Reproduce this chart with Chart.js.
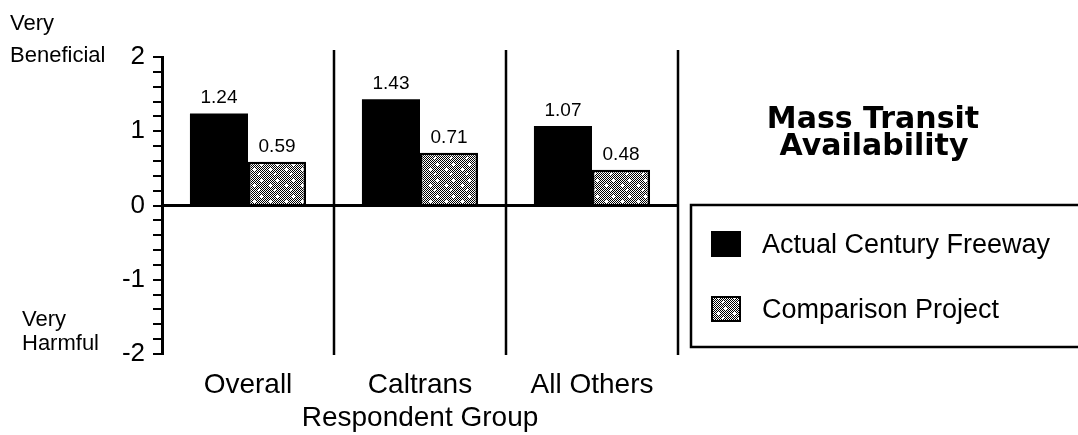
<!DOCTYPE html>
<html>
<head>
<meta charset="utf-8">
<script src="https://cdn.jsdelivr.net/npm/chart.js@4.4.1/dist/chart.umd.min.js"></script>
<style>
  body { margin: 0; background: #fff; }
  #wrap { width: 1078px; height: 435px; position: relative; }
</style>
</head>
<body>
<div id="wrap"><canvas id="massTransit"></canvas></div>
<script>
// data
const groups = ['Overall', 'Caltrans', 'All Others'];
const seriesNames = ['Actual Century Freeway', 'Comparison Project'];
const actualValues = [1.24, 1.43, 1.07];
const comparisonValues = [0.59, 0.71, 0.48];
const yTicks = [-2, -1, 0, 1, 2];
const chartTitle = ['Mass Transit', 'Availability'];
const FONT = '"Liberation Sans", Arial, sans-serif';

// grey stipple used for the comparison bars (checkerboard with a few holes)
function stipple() {
  const mask = [
    '1010101010101010',
    '0101010101010101',
    '1010101010101010',
    '0101000101010101',
    '1010000010101010',
    '0101000101010101',
    '1010101010101010',
    '0101010101010101',
    '1010101010101000',
    '0101010101010000',
    '1010101010101000',
    '0101010101010101',
    '1010101010101010',
    '0100010101010101',
    '1000101010101010',
    '0101010101010101'
  ];
  const c = document.createElement('canvas');
  c.width = 16; c.height = 16;
  const g = c.getContext('2d');
  g.fillStyle = '#fff';
  g.fillRect(0, 0, 16, 16);
  g.fillStyle = '#000';
  mask.forEach((row, r) => {
    for (let k = 0; k < row.length; k++) if (row[k] === '1') g.fillRect(k, r, 1, 1);
  });
  return g.createPattern(c, 'repeat');
}

const ctx = document.getElementById('massTransit').getContext('2d');
const grey = stipple();

// separators, zero line, value labels, side labels, title and legend box
const decor = {
  id: 'decor',
  afterDatasetsDraw(chart) {
    const c = chart.ctx;
    const { left, right } = chart.chartArea;
    const x = chart.scales.x, y = chart.scales.y;
    c.save();
    c.strokeStyle = '#000';

    c.lineWidth = 3;
    const y0 = y.getPixelForValue(0);
    c.beginPath(); c.moveTo(left, y0); c.lineTo(right, y0); c.stroke();

    const top = y.getPixelForValue(yTicks[yTicks.length - 1]) - 7;
    const bottom = y.getPixelForValue(yTicks[0]) + 1;
    c.lineWidth = 2.5;
    const cuts = [];
    for (let i = 0; i < groups.length - 1; i++) {
      cuts.push((x.getPixelForValue(i) + x.getPixelForValue(i + 1)) / 2);
    }
    cuts.push(right);
    cuts.forEach(px => {
      c.beginPath(); c.moveTo(px, top); c.lineTo(px, bottom); c.stroke();
    });

    c.fillStyle = '#000';
    c.font = '19px ' + FONT;
    c.textAlign = 'center';
    c.textBaseline = 'alphabetic';
    chart.data.datasets.forEach((ds, i) => {
      chart.getDatasetMeta(i).data.forEach((bar, j) => {
        c.fillText(ds.data[j].toFixed(2), bar.x, bar.y - 10);
      });
    });
    c.restore();
  },
  afterDraw(chart) {
    const c = chart.ctx;
    c.save();
    c.fillStyle = '#000';
    c.textBaseline = 'alphabetic';

    c.font = '22px ' + FONT;
    c.textAlign = 'left';
    c.fillText('Very', 10, 30);
    c.fillText('Beneficial', 10, 62);
    c.fillText('Very', 22, 326);
    c.fillText('Harmful', 22, 350);

    c.font = 'bold 30px "DejaVu Sans", sans-serif';
    c.textAlign = 'center';
    c.fillText(chartTitle[0], 873, 128);
    c.fillText(chartTitle[1], 874, 155);

    // legend box (runs off the right edge like the scan)
    c.strokeStyle = '#000';
    c.lineWidth = 2.5;
    c.strokeRect(691, 205, 400, 142);
    const swatches = ['#000', grey];
    const baselines = [253, 318];
    c.font = '27px ' + FONT;
    c.textAlign = 'left';
    seriesNames.forEach((name, i) => {
      const sy = baselines[i] - 21;
      c.fillStyle = swatches[i];
      c.fillRect(712, sy, 28, 24);
      c.lineWidth = 2;
      c.strokeRect(712, sy, 28, 24);
      c.fillStyle = '#000';
      c.fillText(name, 762, baselines[i]);
    });
    c.restore();
  }
};

new Chart(ctx, {
  type: 'bar',
  data: {
    labels: groups,
    datasets: [{
      label: seriesNames[0],
      data: actualValues,
      backgroundColor: '#000',
      borderWidth: 0,
      barPercentage: 1,
      categoryPercentage: 0.675
    }, {
      label: seriesNames[1],
      data: comparisonValues,
      backgroundColor: grey,
      borderColor: '#000',
      borderWidth: 2.5,
      barPercentage: 1,
      categoryPercentage: 0.675
    }]
  },
  options: {
    responsive: true,
    maintainAspectRatio: false,
    animation: false,
    layout: { padding: { left: 0, top: 57, right: 400, bottom: 0 } },
    plugins: { legend: { display: false }, tooltip: { enabled: false } },
    scales: {
      x: {
        grid: { display: false, drawTicks: false },
        border: { display: false },
        ticks: { color: '#000', font: { family: FONT, size: 28 }, padding: 14 },
        title: {
          display: true,
          text: 'Respondent Group',
          color: '#000',
          font: { family: FONT, size: 28 },
          padding: { top: 0, bottom: 0 }
        },
        afterFit(scale) { scale.height = 81; }
      },
      y: {
        min: yTicks[0],
        max: yTicks[yTicks.length - 1],
        grid: { drawOnChartArea: false, color: '#000', lineWidth: 2, tickLength: 9 },
        border: { color: '#000', width: 3 },
        ticks: {
          stepSize: 0.2,
          autoSkip: false,
          color: '#000',
          padding: 8,
          font: { family: FONT, size: 26 },
          callback: v => {
            const r = Math.round(v);
            return Math.abs(v - r) < 1e-6 && yTicks.includes(r) ? String(r) : '';
          }
        },
        afterFit(scale) { scale.width = 162; }
      }
    }
  },
  plugins: [decor]
});
</script>
</body>
</html>
